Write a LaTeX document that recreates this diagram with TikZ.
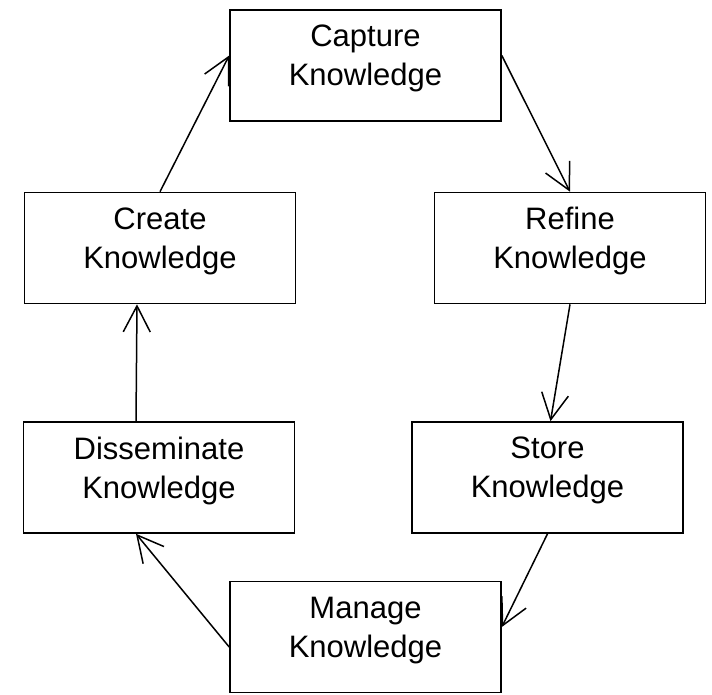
\documentclass[tikz,border=0pt]{standalone}
\usepackage{fontspec}
\setmainfont{Liberation Sans}
\usetikzlibrary{arrows.meta,positioning}
\tikzset{
    block/.style = {draw, rectangle, line width=1.6pt,
        minimum height=111pt,
        minimum width=271pt, align=center, text depth=20pt,
        font=\fontsize{31}{39}\selectfont},
    arrow/.style={draw, line width=1.5pt, -{Straight Barb[length=26pt,width=27pt,line width=1.5pt]}}
}

\begin{document}
\begin{tikzpicture}[x=1pt, y=-1pt]
        \useasboundingbox (0,0) rectangle (712,694);
        \node [block] (capture) at (365.5,65.5) {Capture\\Knowledge};
        \node [block] (create) at (160,248) {Create\\Knowledge};
        \node [block] (refine) at (570,248) {Refine\\Knowledge};
        \node [block] (dissem) at (159,477.5) {Disseminate\\Knowledge};
        \node [block] (store) at (547.5,477.5) {Store\\Knowledge};
        \node [block] (manage) at (365.5,637) {Manage\\Knowledge};
        % the cycle
        \draw [arrow] (create.north) -- ([yshift=10pt]capture.west);
        \draw [arrow] ([yshift=10pt]capture.east) -- (refine.north);
        \draw [arrow] (refine.south) -- ([xshift=3pt]store.north);
        \draw [arrow] (store.south) -- ([yshift=10pt]manage.east);
        \draw [arrow] ([yshift=-10pt]manage.west) -- ([xshift=-23pt]dissem.south);
        \draw [arrow] ([xshift=-23pt]dissem.north) -- ([xshift=-23pt]create.south);
    \end{tikzpicture}
\end{document}
